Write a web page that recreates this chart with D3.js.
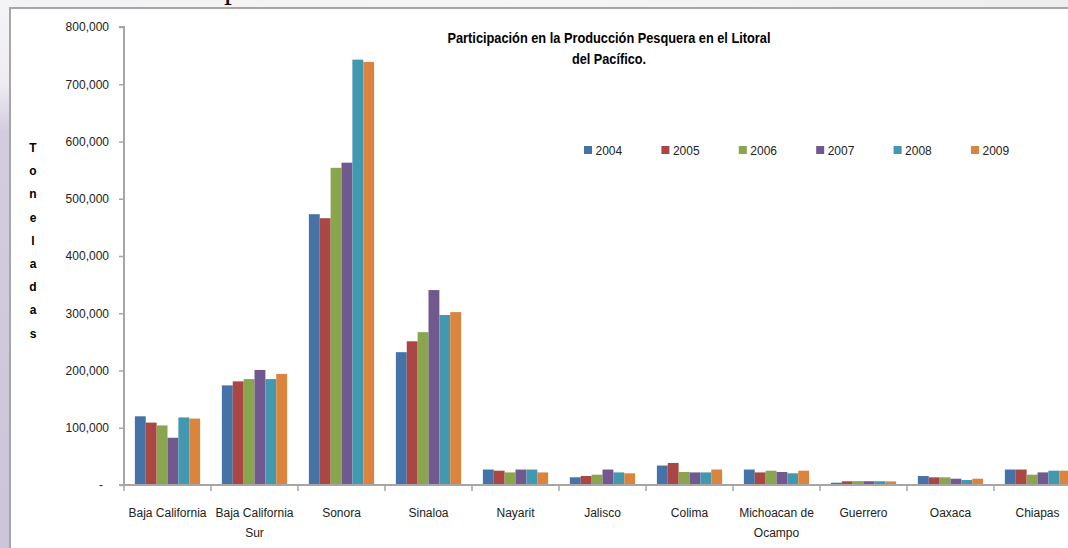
<!DOCTYPE html>
<html>
<head>
<meta charset="utf-8">
<script src="https://cdn.jsdelivr.net/npm/d3@7"></script>
<style>
  html, body { margin: 0; padding: 0; background: #fff; }
  svg { display: block; }
  text { font-family: "Liberation Sans", Arial, sans-serif; }
</style>
</head>
<body>
<svg id="chart" width="1068" height="548"></svg>
<script>
// ---- data ----
const categories = ["Baja California", "Baja California Sur", "Sonora", "Sinaloa", "Nayarit", "Jalisco", "Colima", "Michoacan de Ocampo", "Guerrero", "Oaxaca", "Chiapas"];
const years = ["2004", "2005", "2006", "2007", "2008", "2009"];
const s2004 = [120000, 174000, 473000, 232000, 27000, 13500, 34000, 27000, 4000, 15700, 27000];
const s2005 = [109000, 181000, 466000, 251000, 25000, 15700, 38500, 22000, 6500, 13400, 27000];
const s2006 = [104000, 185000, 554000, 267000, 22000, 18000, 22700, 25000, 6800, 13400, 18000];
const s2007 = [82500, 201000, 563000, 340500, 27000, 27000, 22000, 22700, 6600, 11000, 22000];
const s2008 = [118000, 185000, 743000, 297000, 27000, 22000, 22000, 20400, 6600, 8700, 25000];
const s2009 = [116000, 194000, 739000, 302000, 22000, 20400, 27000, 25000, 6300, 11000, 25000];
const seriesValues = [s2004, s2005, s2006, s2007, s2008, s2009];
const yTicks = [0, 100000, 200000, 300000, 400000, 500000, 600000, 700000, 800000];
const colors = ["#4572A7", "#AA4643", "#89A54E", "#71588F", "#4198AF", "#DB843D"];
const titleLines = ["Participación en la Producción Pesquera en el Litoral", "del Pacífico."];
const yTitle = "Toneladas";

// ---- drawing ----
(function () {
const svg = d3.select("#chart");
const defs = svg.append("defs");
const lg = defs.append("linearGradient").attr("id", "bgL").attr("x1", 0).attr("y1", 0).attr("x2", 0).attr("y2", 1);
lg.append("stop").attr("offset", "0%").attr("stop-color", "#f4f3f6");
lg.append("stop").attr("offset", "15%").attr("stop-color", "#efedf2");
lg.append("stop").attr("offset", "24%").attr("stop-color", "#d3cce0");
lg.append("stop").attr("offset", "100%").attr("stop-color", "#cdc6da");
const tg = defs.append("linearGradient").attr("id", "bgT").attr("x1", 0).attr("y1", 0).attr("x2", 1).attr("y2", 0);
tg.append("stop").attr("offset", "0%").attr("stop-color", "#f2f2f4");
tg.append("stop").attr("offset", "50%").attr("stop-color", "#f6f5f5");
tg.append("stop").attr("offset", "100%").attr("stop-color", "#eeeeee");

svg.append("rect").attr("x", 0).attr("y", 0).attr("width", 1068).attr("height", 548).attr("fill", "url(#bgT)");
svg.append("rect").attr("x", 0).attr("y", 0).attr("width", 12).attr("height", 548).attr("fill", "url(#bgL)");
svg.append("text").attr("x", 224).attr("y", -2)
  .attr("font-size", 32).attr("fill", "#111").style("font-family", "'Liberation Serif', serif").text("p");

// chart box
svg.append("rect").attr("x", 10).attr("y", 8).attr("width", 1100).attr("height", 600)
  .attr("fill", "#fff").attr("stroke", "#a6a6a6").attr("stroke-width", 2);

const pLeft = 124, pRight = 1081, pTop = 27, pBottom = 485;
const x0 = d3.scaleBand().domain(categories).range([pLeft, pRight]).paddingInner(0).paddingOuter(0);
const x1 = d3.scaleBand().domain(years).range([0, x0.bandwidth()]).paddingInner(0).paddingOuter(1);
const y = d3.scaleLinear().domain([0, 800000]).range([pBottom, pTop]);

// bars
const groups = svg.append("g").selectAll("g").data(categories).join("g")
  .attr("transform", d => `translate(${x0(d)},0)`);
groups.selectAll("rect").data((c, i) => years.map((yr, j) => ({ yr, v: seriesValues[j][i], j })))
  .join("rect")
  .attr("x", d => x1(d.yr))
  .attr("y", d => y(d.v))
  .attr("width", x1.bandwidth())
  .attr("height", d => pBottom - y(d.v))
  .attr("fill", d => colors[d.j]);

// y axis
const yAxis = d3.axisLeft(y).tickValues(yTicks).tickSize(5).tickPadding(10)
  .tickFormat(d => d === 0 ? "-" : d3.format(",")(d));
const gy = svg.append("g").attr("transform", `translate(${pLeft},0)`).call(yAxis);
gy.select(".domain").attr("stroke", "#a6a6a6").attr("stroke-width", 2).attr("d", `M-5,${pTop}H0V${pBottom}`);
gy.selectAll(".tick line").attr("stroke", "#a6a6a6").attr("stroke-width", 1.5);
gy.selectAll(".tick text").attr("font-size", 12).attr("fill", "#222")
  .style("font-family", "'Liberation Sans', Arial, sans-serif")
  .attr("dx", d => d === 0 ? -6 : 0);

// x axis
const xAxis = d3.axisBottom(x0).tickSize(0).tickFormat("");
const gx = svg.append("g").attr("transform", `translate(0,${pBottom})`).call(xAxis);
gx.select(".domain").attr("stroke", "#a6a6a6").attr("stroke-width", 2).attr("d", `M${pLeft - 5},0H${pRight}`);
const boundaries = categories.map(c => x0(c)).concat([pRight]);
gx.selectAll(".bnd").data(boundaries).join("line").attr("class", "bnd")
  .attr("x1", d => d).attr("x2", d => d).attr("y1", 0).attr("y2", 6)
  .attr("stroke", "#a6a6a6").attr("stroke-width", 1.5);

// category labels with wrapping
const catLabels = svg.append("g").selectAll("text").data(categories).join("text")
  .attr("x", d => x0(d) + x0.bandwidth() / 2)
  .attr("y", 517)
  .attr("text-anchor", "middle")
  .attr("font-size", 12)
  .attr("fill", "#222");
catLabels.each(function (d) {
  const t = d3.select(this);
  const words = d.split(" ");
  let line = [], lines = [];
  const probe = t.append("tspan");
  words.forEach(w => {
    const test = line.concat([w]).join(" ");
    probe.text(test);
    if (probe.node().getComputedTextLength() > 84 && line.length) {
      lines.push(line.join(" "));
      line = [w];
    } else line.push(w);
  });
  lines.push(line.join(" "));
  probe.remove();
  lines.forEach((l, i) => {
    t.append("tspan").attr("x", x0(d) + x0.bandwidth() / 2).attr("dy", i === 0 ? 0 : 20).text(l);
  });
});

// title
svg.append("g").selectAll("text").data(titleLines).join("text")
  .attr("x", 609)
  .attr("y", (d, i) => 43 + i * 21)
  .attr("text-anchor", "middle")
  .attr("font-size", 14)
  .attr("font-weight", "bold")
  .attr("fill", "#000")
  .style("font-family", "'Liberation Sans Narrow', 'Liberation Sans', Arial, sans-serif")
  .text(d => d)
  .each(function (d, i) {
    const target = i === 0 ? 323 : 74;
    d3.select(this).attr("textLength", target).attr("lengthAdjust", "spacingAndGlyphs");
  });

// y title (stacked letters)
svg.append("g").selectAll("text").data(yTitle.split("")).join("text")
  .attr("x", 33)
  .attr("y", (d, i) => 152 + i * 23.2)
  .attr("text-anchor", "middle")
  .attr("font-size", 12)
  .attr("font-weight", "bold")
  .attr("fill", "#000")
  .text(d => d);

// legend
const legend = svg.append("g").selectAll("g").data(years).join("g")
  .attr("transform", (d, i) => `translate(${584 + i * 77.4},150)`);
legend.append("rect").attr("x", 0).attr("y", -4).attr("width", 8).attr("height", 8)
  .attr("fill", (d, i) => colors[i]);
legend.append("text").attr("x", 11.5).attr("y", 4.5).attr("font-size", 12).attr("fill", "#222").text(d => d);
})();
</script>
</body>
</html>
